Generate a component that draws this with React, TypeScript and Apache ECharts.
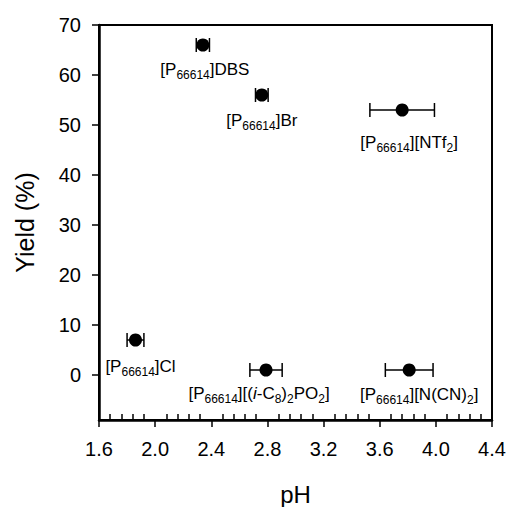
import React, { useEffect, useRef } from "react";
import * as echarts from "echarts";

const ionicLiquids = ["Cl", "DBS", "Br", "(i-C8)2PO2", "NTf2", "N(CN)2"];
const labelTexts = [
  "[P{s|66614}]Cl",
  "[P{s|66614}]DBS",
  "[P{s|66614}]Br",
  "[P{s|66614}][({i|i}-C{s|8}){s|2}PO{s|2}]",
  "[P{s|66614}][NTf{s|2}]",
  "[P{s|66614}][N(CN){s|2}]",
];
const pHValues = [1.86, 2.34, 2.76, 2.79, 3.76, 3.81];
const pHErrors = [0.06, 0.047, 0.045, 0.115, 0.23, 0.17];
const yieldValues = [7, 66, 56, 1, 53, 1];
const yTickValues = [0, 10, 20, 30, 40, 50, 60, 70];

const labelOffsets: [number, number][] = [
  [5, 26],
  [2, 24],
  [0, 25],
  [-7, 23],
  [7, 32],
  [10, 24],
];

const FONT = "'Liberation Sans', Arial, Helvetica, sans-serif";

export default function App() {
  const ref = useRef<HTMLDivElement>(null);
  useEffect(() => {
    if (!ref.current) return;
    const chart = echarts.init(ref.current, null, { renderer: "svg" });
    const errData = pHValues.map((x, i) => [x, yieldValues[i], pHErrors[i]]);
    const scatterData = pHValues.map((x, i) => ({
      name: ionicLiquids[i],
      value: [x, yieldValues[i]],
      label: {
        show: true,
        position: "inside",
        offset: labelOffsets[i],
        formatter: labelTexts[i],
      },
    }));
    chart.setOption({
      animation: false,
      backgroundColor: "#fff",
      textStyle: { fontFamily: FONT },
      grid: {
        left: 99,
        top: 25,
        width: 393,
        height: 395,
        outerBoundsMode: "none",
        containLabel: false,
        show: true,
        borderColor: "#000",
        borderWidth: 2,
        backgroundColor: "transparent",
      },
      xAxis: {
        type: "value",
        min: 1.6,
        max: 4.4,
        interval: 0.4,
        name: "pH",
        nameLocation: "middle",
        nameGap: 64,
        nameTextStyle: { fontSize: 24, lineHeight: 20, color: "#000", fontFamily: FONT },
        axisLine: { show: true, onZero: false, lineStyle: { color: "#000", width: 2.5 } },
        axisTick: { show: true, length: 7, lineStyle: { color: "#000", width: 1.5 } },
        minorTick: { show: true, splitNumber: 5, length: -6, lineStyle: { color: "#000", width: 1.5 } },
        axisLabel: {
          fontSize: 20,
          color: "#000",
          margin: 19,
          fontFamily: FONT,
          formatter: (v: number) => v.toFixed(1),
        },
        splitLine: { show: false },
      },
      yAxis: {
        type: "value",
        min: -9,
        max: 70,
        name: "Yield (%)",
        nameLocation: "middle",
        nameGap: 62,
        nameTextStyle: { fontSize: 25, color: "#000", fontFamily: FONT },
        axisLine: { show: true, onZero: false, lineStyle: { color: "#000", width: 2.5 } },
        axisTick: {
          show: true,
          length: 7,
          customValues: yTickValues,
          lineStyle: { color: "#000", width: 1.5 },
        },
        axisLabel: {
          fontSize: 20,
          color: "#000",
          margin: 18,
          fontFamily: FONT,
          customValues: yTickValues,
        },
        splitLine: { show: false },
      },
      series: [
        {
          type: "custom",
          data: errData,
          z: 1,
          renderItem: (params: any, api: any) => {
            const x = api.value(0);
            const y = api.value(1);
            const e = api.value(2);
            const lo = api.coord([x - e, y]);
            const hi = api.coord([x + e, y]);
            const h = 7;
            const style = { stroke: "#000", lineWidth: 1.5 };
            return {
              type: "group",
              children: [
                { type: "line", shape: { x1: lo[0], y1: lo[1], x2: hi[0], y2: hi[1] }, style },
                { type: "line", shape: { x1: lo[0], y1: lo[1] - h, x2: lo[0], y2: lo[1] + h }, style },
                { type: "line", shape: { x1: hi[0], y1: hi[1] - h, x2: hi[0], y2: hi[1] + h }, style },
              ],
            };
          },
        },
        {
          type: "scatter",
          z: 3,
          symbol: "circle",
          symbolSize: 13,
          itemStyle: { color: "#000", opacity: 1 },
          label: {
            fontSize: 17,
            lineHeight: 23,
            color: "#000",
            fontFamily: FONT,
            rich: {
              s: { fontSize: 12, color: "#000", fontFamily: FONT, verticalAlign: "bottom" },
              i: { fontSize: 17, fontStyle: "italic", color: "#000", fontFamily: FONT },
            },
          },
          emphasis: { disabled: true },
          data: scatterData,
        },
      ],
    });
    return () => chart.dispose();
  }, []);
  return (
    <div
      ref={ref}
      style={{ position: "fixed", left: 0, top: 0, width: 508, height: 507, background: "#fff" }}
    />
  );
}
